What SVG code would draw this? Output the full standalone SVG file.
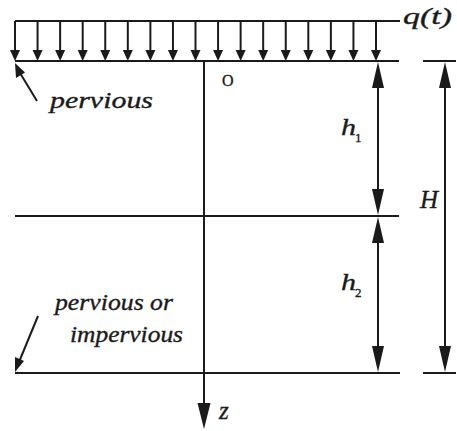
<svg xmlns="http://www.w3.org/2000/svg" width="457" height="431" viewBox="0 0 457 431">
<style>
.ln{stroke:#1a1a1a;stroke-width:2;fill:none}
.ah{fill:#1a1a1a;stroke:none}
.t{font-family:"Liberation Serif","Times New Roman",serif;fill:#1a1a1a;stroke:#1a1a1a;stroke-width:0.35}
.it{font-style:italic}
</style>
<defs>
<path id="loadHead" d="M0,0 L-5,-11 L5,-11 Z"/>
<path id="ahDown" d="M0,0 L-6,-26 L6,-26 Z"/>
<path id="ahUp" d="M0,0 L-6,26 L6,26 Z"/>
<g id="loadArrow"><line class="ln" x1="0" y1="21" x2="0" y2="52"/><use href="#loadHead" class="ah" y="61"/></g>
</defs>
<rect width="457" height="431" fill="#fff"/>
<g id="load">
<line class="ln" x1="15" y1="21" x2="400" y2="21"/>
<use href="#loadArrow" x="15"/><use href="#loadArrow" x="37.56"/><use href="#loadArrow" x="60.13"/><use href="#loadArrow" x="82.69"/><use href="#loadArrow" x="105.25"/><use href="#loadArrow" x="127.81"/><use href="#loadArrow" x="150.38"/><use href="#loadArrow" x="172.94"/><use href="#loadArrow" x="195.5"/><use href="#loadArrow" x="218.06"/><use href="#loadArrow" x="240.63"/><use href="#loadArrow" x="263.19"/><use href="#loadArrow" x="285.75"/><use href="#loadArrow" x="308.31"/><use href="#loadArrow" x="330.88"/><use href="#loadArrow" x="353.44"/><use href="#loadArrow" x="376"/>
<text class="t it" x="403" y="24" font-size="23" textLength="49" lengthAdjust="spacingAndGlyphs">q(t)</text>
</g>
<g id="layers">
<line class="ln" x1="15" y1="61" x2="399" y2="61"/>
<line class="ln" x1="15" y1="216" x2="399" y2="216"/>
<line class="ln" x1="15" y1="373" x2="400" y2="373"/>
<line class="ln" x1="423" y1="61" x2="456" y2="61"/>
<line class="ln" x1="423" y1="373" x2="456" y2="373"/>
</g>
<g id="axis">
<line class="ln" x1="204" y1="61" x2="204" y2="406"/>
<path class="ah" d="M204,429 L197.5,403 L210.5,403 Z"/>
<text class="t" x="222" y="86" font-size="16">O</text>
<text class="t it" x="219" y="419" font-size="25">z</text>
</g>
<g id="dim-h1">
<line class="ln" x1="378" y1="80" x2="378" y2="196"/>
<use href="#ahUp" class="ah" x="378" y="62"/>
<use href="#ahDown" class="ah" x="378" y="215"/>
<text class="t it" x="341" y="135" font-size="23" textLength="15" lengthAdjust="spacingAndGlyphs">h</text>
<text class="t" x="355" y="142" font-size="13">1</text>
</g>
<g id="dim-h2">
<line class="ln" x1="378" y1="236" x2="378" y2="353"/>
<use href="#ahUp" class="ah" x="378" y="217"/>
<use href="#ahDown" class="ah" x="378" y="372"/>
<text class="t it" x="341" y="290" font-size="23" textLength="15" lengthAdjust="spacingAndGlyphs">h</text>
<text class="t" x="355" y="297" font-size="13">2</text>
</g>
<g id="dim-H">
<line class="ln" x1="445" y1="80" x2="445" y2="353"/>
<use href="#ahUp" class="ah" x="445" y="62"/>
<use href="#ahDown" class="ah" x="445" y="372"/>
<text class="t it" x="420" y="208" font-size="25">H</text>
</g>
<g id="pervious-top">
<line class="ln" x1="37" y1="101" x2="20" y2="73"/>
<path class="ah" d="M15,63 L16,78 L25,72.5 Z"/>
<text class="t it" x="50" y="108" font-size="24" textLength="103" lengthAdjust="spacingAndGlyphs">pervious</text>
</g>
<g id="pervious-bottom">
<line class="ln" x1="38" y1="316" x2="19" y2="362"/>
<path class="ah" d="M15,372 L15,357 L24,361 Z"/>
<text class="t it" x="55" y="310" font-size="24" textLength="118" lengthAdjust="spacingAndGlyphs">pervious or</text>
<text class="t it" x="70" y="342" font-size="24" textLength="113" lengthAdjust="spacingAndGlyphs">impervious</text>
</g>
</svg>
